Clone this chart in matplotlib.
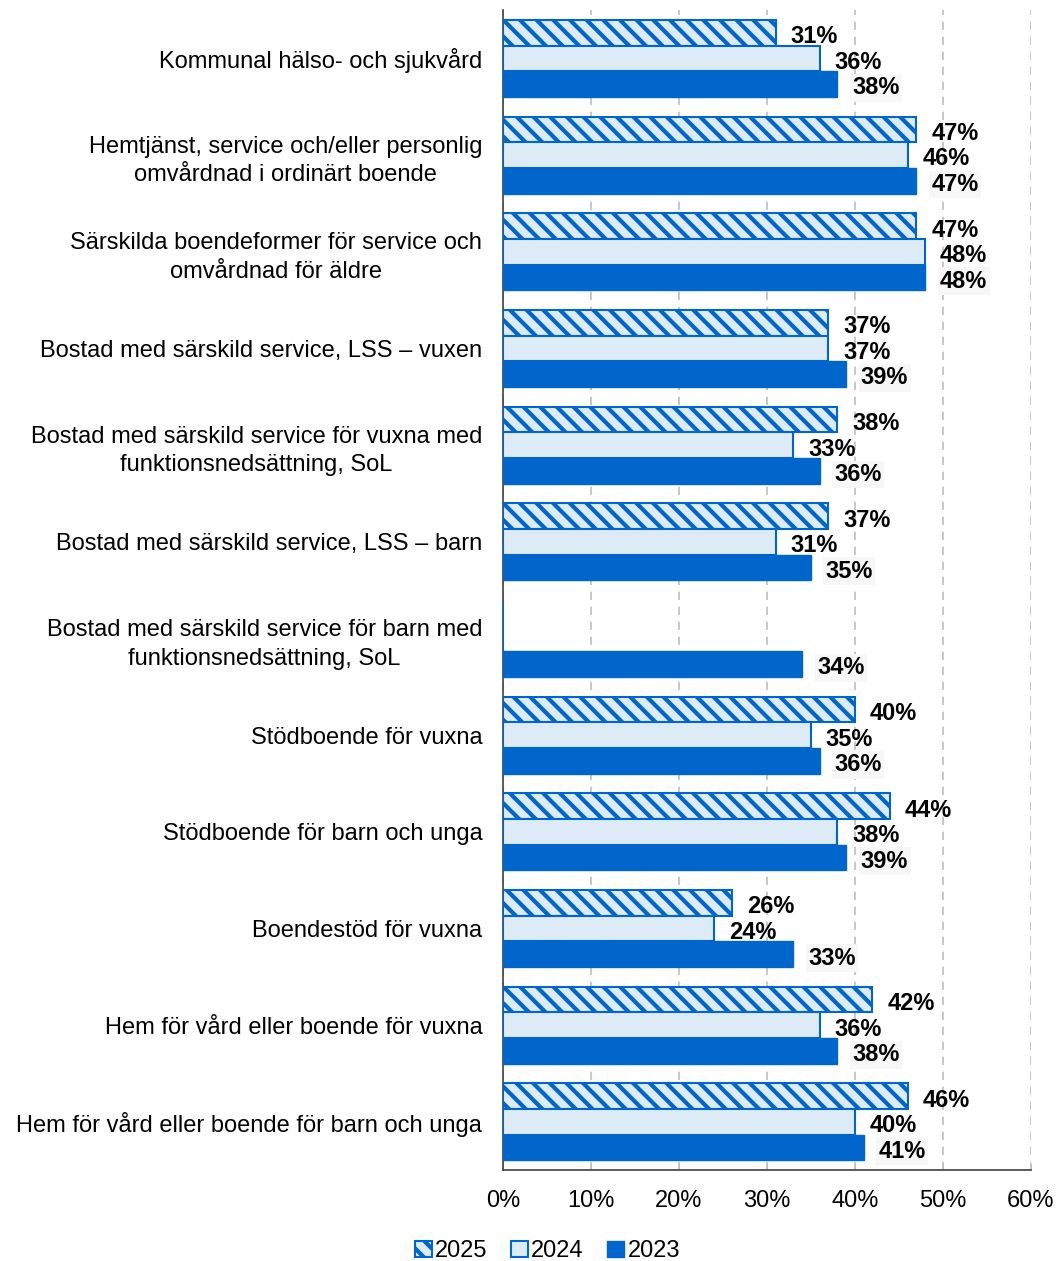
import matplotlib.pyplot as plt
import matplotlib as mpl
import numpy as np

plt.rcParams['font.family'] = ['Liberation Sans', 'DejaVu Sans']

categories = [
    "Kommunal hälso- och sjukvård",
    "Hemtjänst, service och/eller personlig\nomvårdnad i ordinärt boende",
    "Särskilda boendeformer för service och\nomvårdnad för äldre",
    "Bostad med särskild service, LSS – vuxen",
    "Bostad med särskild service för vuxna med\nfunktionsnedsättning, SoL",
    "Bostad med särskild service, LSS – barn",
    "Bostad med särskild service för barn med\nfunktionsnedsättning, SoL",
    "Stödboende för vuxna",
    "Stödboende för barn och unga",
    "Boendestöd för vuxna",
    "Hem för vård eller boende för vuxna",
    "Hem för vård eller boende för barn och unga",
]
v2025 = [31, 47, 47, 37, 38, 37, np.nan, 40, 44, 26, 42, 46]
v2024 = [36, 46, 48, 37, 33, 31, np.nan, 35, 38, 24, 36, 40]
v2023 = [38, 47, 48, 39, 36, 35, 34, 36, 39, 33, 38, 41]
ticks = [0, 10, 20, 30, 40, 50, 60]

blue = '#0066CC'
light = '#DDEBF7'
mpl.rcParams['hatch.linewidth'] = 3
mpl.rcParams['hatch.color'] = blue

fig = plt.figure(figsize=(10.57, 12.61), dpi=100)
ax = fig.add_axes([0.476, 0.072, 0.499, 0.920])

y = np.arange(len(categories))
h = 0.265
off = 0.265
fs = 17

series = [
    ("2025", v2025, -off, dict(facecolor=light, edgecolor=blue, hatch='\\\\', linewidth=1.5)),
    ("2024", v2024, 0, dict(facecolor=light, edgecolor=blue, linewidth=1.5)),
    ("2023", v2023, off, dict(facecolor=blue, edgecolor=blue, linewidth=1.0)),
]

for name, vals, o, style in series:
    vals = np.array(vals, dtype=float)
    ax.barh(y + o, np.nan_to_num(vals), height=h, label=name, zorder=3, **style)
    for yi, v in zip(y + o, vals):
        if np.isnan(v):
            continue
        kw = {}
        if name == "2023":
            kw['bbox'] = dict(boxstyle='square,pad=0.1', facecolor='#F7F7F7', edgecolor='none')
        ax.text(v + 1.7, yi + 0.04, f"{v:.0f}%", va='center', ha='left',
                fontsize=fs, fontweight='bold', zorder=4, **kw)

ax.set_ylim(len(categories) - 0.5, -0.5)
ax.set_xlim(0, 60)
ax.set_xticks(ticks)
ax.set_xticklabels([f"{t}%" for t in ticks], fontsize=fs)
ax.set_yticks(y)
ax.set_yticklabels(categories, fontsize=fs, linespacing=1.4, multialignment='center')
ax.tick_params(axis='y', length=0, pad=15)
ax.tick_params(axis='x', length=5, direction='in', color='#BFBFBF', pad=14)

ax.grid(axis='x', color='#BFBFBF', linestyle=(0, (5, 4)), linewidth=1.2, zorder=0)
for s in ['top', 'right']:
    ax.spines[s].set_visible(False)
ax.spines['left'].set_color('#404040')
ax.spines['bottom'].set_color('#404040')
ax.spines['left'].set_linewidth(1.2)
ax.spines['bottom'].set_linewidth(1.2)

fig.legend(loc='lower center', bbox_to_anchor=(0.518, -0.018), ncol=3, frameon=False,
           fontsize=fs, handlelength=0.7, handleheight=0.7, handletextpad=0.15,
           columnspacing=1.0)

fig.savefig('out.png', dpi=100)
